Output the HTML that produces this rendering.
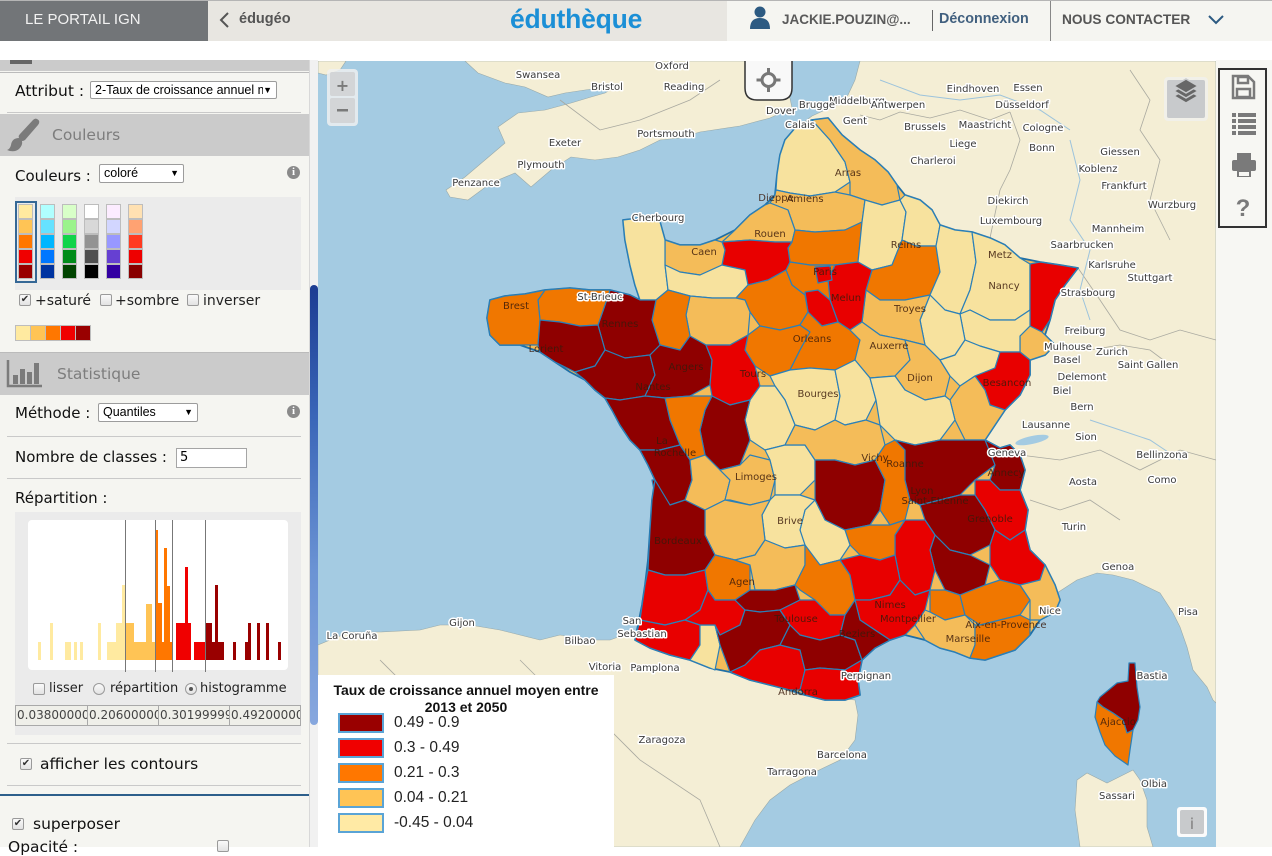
<!DOCTYPE html>
<html><head><meta charset="utf-8">
<style>
*{box-sizing:border-box;margin:0;padding:0}
body{width:1272px;height:847px;overflow:hidden;position:relative;background:#fff;font-family:"DejaVu Sans",sans-serif}
.a{position:absolute}
.lbl{position:absolute;font-family:"DejaVu Sans",sans-serif;font-size:15px;color:#111;white-space:nowrap;line-height:18px}
.sel{position:absolute;background:#fff;border:1px solid #9c9c9c;border-radius:2px;font-family:"Liberation Sans",sans-serif;font-size:12.5px;color:#000;white-space:nowrap;overflow:hidden;padding-left:4px;line-height:16px}
.sel .tx{position:absolute;left:4px;top:0;overflow:hidden;white-space:nowrap}
.sel .ar{position:absolute;right:4px;top:0;font-size:9px}
.dv{position:absolute;height:1px;background:#c9c9c9;left:7px;width:294px}
.cb{position:absolute;width:12px;height:12px;border:1px solid #9a9a9a;border-radius:2px;background:linear-gradient(#fafafa,#e2e2e2);font-size:10px;line-height:10px;color:#333;text-align:center}
.rd{position:absolute;width:12px;height:12px;border:1px solid #9a9a9a;border-radius:50%;background:linear-gradient(#fafafa,#e2e2e2)}
.sm{font-size:14px}
.info{position:absolute;width:13px;height:13px;border-radius:50%;background:#8a8a8a;color:#fff;font-family:"Liberation Serif",serif;font-weight:bold;font-size:11px;line-height:13px;text-align:center}
.sh{position:absolute;left:0;width:309px;background:#cbcbcb}
.sht{position:absolute;font-family:"DejaVu Sans",sans-serif;font-size:15.5px;color:#7d7d7d}
.th{position:absolute;top:705px;height:21px;border:1px solid #a9a9a9;background:#efefe9;font-family:"DejaVu Sans",sans-serif;font-size:12px;color:#444;overflow:hidden;white-space:nowrap;line-height:19px;padding-left:1px}
.D{fill:#8f0000}.R{fill:#e80000}.O{fill:#f07700}.L{fill:#f4bc59}.P{fill:#f7e29e}
#dep polygon{stroke:#2b80b8;stroke-width:1.2;stroke-linejoin:round}
.ml{font-family:"DejaVu Sans",sans-serif;font-size:10px;fill:#3a3a3a;stroke:#fff;stroke-width:3px;paint-order:stroke;stroke-linejoin:round;text-anchor:middle}
.fl{font-family:"DejaVu Sans",sans-serif;font-size:10px;fill:#3a1a0a;fill-opacity:.85;text-anchor:middle}
</style></head>
<body>

<!-- HEADER -->
<div class="a" style="left:0;top:0;width:1272px;height:1px;background:#b5b5b5"></div>
<div class="a" style="left:0;top:1px;width:208px;height:40px;background:#727578"></div>
<div class="a" style="left:208px;top:1px;width:519px;height:40px;background:#e8e6e1"></div>
<div class="a" style="left:727px;top:1px;width:545px;height:40px;background:#f5f5f1"></div>
<div class="a" style="left:25px;top:11px;font-family:'Liberation Sans',sans-serif;font-size:15px;color:#f2f2f2;white-space:nowrap">LE PORTAIL IGN</div>
<svg class="a" style="left:0;top:0" width="1272" height="41">
 <polyline points="228,13 221,20 228,27" fill="none" stroke="#555" stroke-width="2"/>
 <polyline points="1209,16 1216,23 1223,16" fill="none" stroke="#2c5a82" stroke-width="2"/>
 <circle cx="760" cy="12" r="5.5" fill="#2c5a82"/>
 <path d="M750,29 Q750,18 760,18 Q770,18 770,29 Z" fill="#2c5a82"/>
 <line x1="932.5" y1="10" x2="932.5" y2="31" stroke="#666"/>
 <line x1="1050.5" y1="1" x2="1050.5" y2="41" stroke="#888"/>
</svg>
<div class="a" style="left:239px;top:11px;font-family:'Liberation Sans',sans-serif;font-weight:bold;font-size:14.5px;color:#555">édugéo</div>
<div class="a" style="left:510px;top:4px;font-family:'Liberation Sans',sans-serif;font-weight:bold;font-size:26.5px;color:#1b8fd6;letter-spacing:-0.2px">éduthèque</div>
<div class="a" style="left:782px;top:12px;font-family:'Liberation Sans',sans-serif;font-weight:bold;font-size:13.5px;color:#5a5a5a;white-space:nowrap">JACKIE.POUZIN@...</div>
<div class="a" style="left:939px;top:11px;font-family:'Liberation Sans',sans-serif;font-weight:bold;font-size:14.3px;color:#41607f;white-space:nowrap">Déconnexion</div>
<div class="a" style="left:1062px;top:12px;font-family:'Liberation Sans',sans-serif;font-weight:bold;font-size:13.7px;color:#555;white-space:nowrap">NOUS CONTACTER</div>

<!-- LEFT PANEL -->
<div class="a" style="left:0;top:60px;width:309px;height:787px;background:#f5f5f1"></div>
<div class="sh" style="top:60px;height:11px"></div>
<div class="a" style="left:10px;top:60px;width:22px;height:4px;background:#666"></div>
<div class="dv" style="top:72px;left:0;width:309px;background:#bbb"></div>

<div class="lbl" style="left:15px;top:82px;font-size:15.5px">Attribut :</div>
<div class="sel" style="left:90px;top:81px;width:187px;height:18px"><span class="tx" style="width:168px">2-Taux de croissance annuel moyen</span><span class="ar">▼</span></div>
<div class="dv" style="top:112px"></div>

<div class="sh" style="top:114px;height:42px"></div>
<svg class="a" style="left:6px;top:116px" width="36" height="38">
 <path d="M31,3 Q35,5 32,9 L19,24 Q16,26 14,24 L13,22 Q12,20 14,18 L27,4 Q29,2 31,3 Z" fill="#7b7b7b"/>
 <path d="M13,22 Q6,22 5,29 Q4,33 1,34 Q8,37 13,33 Q17,29 16,25 Z" fill="#7b7b7b"/>
</svg>
<div class="sht" style="left:52px;top:126px">Couleurs</div>

<div class="lbl" style="left:15px;top:167px">Couleurs :</div>
<div class="sel" style="left:99px;top:164px;width:85px;height:19px"><span class="tx" style="width:65px">coloré</span><span class="ar">▼</span></div>
<div class="info" style="left:287px;top:166px">i</div>

<div class="a" style="left:15px;top:197px;width:286px;height:93px;background:#ebebeb"></div>
<div class="a" style="left:15px;top:201px;width:22px;height:82px;border:2px solid #356896"></div>
<svg class="a" style="left:0;top:190px" width="160" height="100">
 <g stroke="#bdbdbd" stroke-width="1">
  <rect x="18.5" y="14.5" width="14" height="14" fill="#ffeaa0"/><rect x="18.5" y="29.5" width="14" height="14" fill="#ffc455"/><rect x="18.5" y="44.5" width="14" height="14" fill="#ff7700"/><rect x="18.5" y="59.5" width="14" height="14" fill="#f00000"/><rect x="18.5" y="74.5" width="14" height="14" fill="#990000"/>
  <rect x="40.5" y="14.5" width="14" height="14" fill="#b0ffff"/><rect x="40.5" y="29.5" width="14" height="14" fill="#66e2ff"/><rect x="40.5" y="44.5" width="14" height="14" fill="#00b6ff"/><rect x="40.5" y="59.5" width="14" height="14" fill="#0077ff"/><rect x="40.5" y="74.5" width="14" height="14" fill="#0033a0"/>
  <rect x="62.5" y="14.5" width="14" height="14" fill="#d8ffc8"/><rect x="62.5" y="29.5" width="14" height="14" fill="#9bf38c"/><rect x="62.5" y="44.5" width="14" height="14" fill="#10d44a"/><rect x="62.5" y="59.5" width="14" height="14" fill="#008c1a"/><rect x="62.5" y="74.5" width="14" height="14" fill="#004400"/>
  <rect x="84.5" y="14.5" width="14" height="14" fill="#ffffff"/><rect x="84.5" y="29.5" width="14" height="14" fill="#d8d8d8"/><rect x="84.5" y="44.5" width="14" height="14" fill="#939393"/><rect x="84.5" y="59.5" width="14" height="14" fill="#505050"/><rect x="84.5" y="74.5" width="14" height="14" fill="#000000"/>
  <rect x="106.5" y="14.5" width="14" height="14" fill="#fcecff"/><rect x="106.5" y="29.5" width="14" height="14" fill="#d2d6ff"/><rect x="106.5" y="44.5" width="14" height="14" fill="#9898ff"/><rect x="106.5" y="59.5" width="14" height="14" fill="#6640d2"/><rect x="106.5" y="74.5" width="14" height="14" fill="#3300a2"/>
  <rect x="128.5" y="14.5" width="14" height="14" fill="#ffe1b2"/><rect x="128.5" y="29.5" width="14" height="14" fill="#ffa272"/><rect x="128.5" y="44.5" width="14" height="14" fill="#ff3a20"/><rect x="128.5" y="59.5" width="14" height="14" fill="#ee0000"/><rect x="128.5" y="74.5" width="14" height="14" fill="#880000"/>
 </g>
</svg>
<div class="cb" style="left:19px;top:294px">✔</div>
<div class="lbl sm" style="left:35px;top:292px;color:#222">+saturé</div>
<div class="cb" style="left:100px;top:294px"></div>
<div class="lbl sm" style="left:115px;top:292px;color:#222">+sombre</div>
<div class="cb" style="left:187px;top:294px"></div>
<div class="lbl sm" style="left:203px;top:292px;color:#222">inverser</div>
<svg class="a" style="left:15px;top:325px" width="76" height="16">
 <g stroke="#bdbdbd"><rect x="0.5" y="0.5" width="15" height="15" fill="#ffeaa0"/><rect x="15.5" y="0.5" width="15" height="15" fill="#ffc455"/><rect x="30.5" y="0.5" width="15" height="15" fill="#ff7700"/><rect x="45.5" y="0.5" width="15" height="15" fill="#f00000"/><rect x="60.5" y="0.5" width="15" height="15" fill="#990000"/></g>
</svg>
<div class="dv" style="top:352px;left:0;width:309px;background:#bbb"></div>

<div class="sh" style="top:353px;height:42px"></div>
<svg class="a" style="left:6px;top:358px" width="38" height="32">
 <path d="M2,2 L2,28 L36,28" fill="none" stroke="#7b7b7b" stroke-width="2.5"/>
 <rect x="7" y="17" width="5" height="9" fill="#7b7b7b"/><rect x="14" y="11" width="5" height="15" fill="#7b7b7b"/><rect x="21" y="14" width="5" height="12" fill="#7b7b7b"/><rect x="28" y="5" width="5" height="21" fill="#7b7b7b"/>
</svg>
<div class="sht" style="left:57px;top:365px">Statistique</div>

<div class="lbl" style="left:15px;top:404px">Méthode :</div>
<div class="sel" style="left:98px;top:403px;width:100px;height:19px"><span class="tx" style="width:80px">Quantiles</span><span class="ar">▼</span></div>
<div class="info" style="left:287px;top:405px">i</div>
<div class="dv" style="top:436px"></div>
<div class="lbl" style="left:15px;top:448px">Nombre de classes :</div>
<div class="a" style="left:176px;top:448px;width:71px;height:20px;background:#fff;border:1px solid #a5a5a5;font-family:'DejaVu Sans',sans-serif;font-size:13px;line-height:18px;padding-left:3px">5</div>
<div class="dv" style="top:478px"></div>
<div class="lbl" style="left:15px;top:489px">Répartition :</div>

<div class="a" style="left:15px;top:512px;width:286px;height:223px;background:#ebebeb"></div>
<div class="a" style="left:28px;top:520px;width:260px;height:150px;background:#fff;border-radius:4px"></div>
<svg class="a" style="left:28px;top:520px" width="260" height="152" viewBox="28 520 260 152">
 <g fill="#ffeaa0">
  <rect x="38" y="642" width="3" height="18"/><rect x="50" y="623" width="3" height="37"/><rect x="65" y="642" width="6" height="18"/><rect x="74" y="642" width="3" height="18"/><rect x="80" y="642" width="3" height="18"/><rect x="98" y="623" width="3" height="37"/><rect x="107" y="642" width="9" height="18"/><rect x="116" y="623" width="6" height="37"/><rect x="122" y="585" width="3" height="75"/>
 </g>
 <g fill="#ffc455">
  <rect x="125" y="623" width="9" height="37"/><rect x="134" y="642" width="12" height="18"/><rect x="146" y="604" width="6" height="56"/><rect x="152" y="642" width="4" height="18"/>
 </g>
 <g fill="#ff7700">
  <rect x="155" y="530" width="3" height="130"/><rect x="158" y="603" width="4" height="57"/><rect x="162" y="642" width="2" height="18"/><rect x="164" y="548" width="3" height="112"/><rect x="167" y="586" width="3" height="74"/><rect x="170" y="642" width="2" height="18"/>
 </g>
 <g fill="#f00000">
  <rect x="176" y="623" width="9" height="37"/><rect x="185" y="567" width="3" height="93"/><rect x="188" y="623" width="3" height="37"/><rect x="194" y="642" width="11" height="18"/>
 </g>
 <g fill="#990000">
  <rect x="205" y="623" width="7" height="37"/><rect x="212" y="642" width="3" height="18"/><rect x="215" y="585" width="3" height="75"/><rect x="218" y="642" width="6" height="18"/><rect x="233" y="642" width="3" height="18"/><rect x="245" y="642" width="3" height="18"/><rect x="248" y="623" width="3" height="37"/><rect x="257" y="623" width="3" height="37"/><rect x="266" y="623" width="3" height="37"/><rect x="278" y="642" width="3" height="18"/>
 </g>
 <g stroke="#777" stroke-width="1">
  <line x1="125.5" y1="520" x2="125.5" y2="672"/><line x1="155.5" y1="520" x2="155.5" y2="672"/><line x1="172.5" y1="520" x2="172.5" y2="672"/><line x1="205.5" y1="520" x2="205.5" y2="672"/>
 </g>
</svg>
<div class="cb" style="left:33px;top:683px"></div>
<div class="lbl" style="left:49px;top:680px;font-size:13px;color:#222">lisser</div>
<div class="rd" style="left:93px;top:683px"></div>
<div class="lbl" style="left:110px;top:680px;font-size:13px;color:#222">répartition</div>
<div class="rd" style="left:185px;top:683px"><div class="a" style="left:3px;top:3px;width:4px;height:4px;border-radius:50%;background:#555"></div></div>
<div class="lbl" style="left:200px;top:680px;font-size:13px;color:#222">histogramme</div>
<div class="th" style="left:15px;width:73px">0.03800000</div>
<div class="th" style="left:87px;width:72px">0.20600000</div>
<div class="th" style="left:158px;width:72px">0.30199999</div>
<div class="th" style="left:229px;width:72px">0.49200000</div>
<div class="dv" style="top:743px"></div>
<div class="cb" style="left:20px;top:758px">✔</div>
<div class="lbl" style="left:40px;top:755px;font-size:15.5px">afficher les contours</div>
<div class="dv" style="top:785px"></div>
<div class="a" style="left:0;top:794px;width:309px;height:2px;background:#2d5f8b"></div>
<div class="cb" style="left:12px;top:818px">✔</div>
<div class="lbl" style="left:33px;top:815px;font-size:15.5px">superposer</div>
<div class="lbl" style="left:8px;top:838px;font-size:15.5px">Opacité :</div>
<div class="cb" style="left:217px;top:840px"></div>

<!-- scrollbar -->
<div class="a" style="left:309px;top:60px;width:9px;height:787px;background:#f1f1f1;border-left:1px solid #d8d8d8"></div>
<div class="a" style="left:310px;top:285px;width:8px;height:440px;border-radius:4px;background:linear-gradient(#1c3c92,#3a66b8 30%,#6b93d4 65%,#87a7de)"></div>

<!-- right background -->
<div class="a" style="left:1216px;top:60px;width:56px;height:787px;background:#f7f7f3"></div>

<!-- MAP -->
<svg class="a" style="left:318px;top:61px" width="898" height="786" viewBox="318 61 898 786">
 <rect x="318" y="61" width="898" height="786" fill="#a4cbe2"/>
 <g fill="#f4eed5" stroke="#9aa" stroke-width="0.6">
  <polygon points="318,61 346,61 340,70 326,75 318,73"/>
  <polygon points="465,61 478,73 505,83 525,87 548,97 565,93 585,90 600,88 610,90 605,93 591,97 571,103 545,110 518,113 498,127 505,143 485,160 465,177 446,190 450,197 468,200 491,183 515,173 531,187 551,170 571,157 595,160 618,157 640,150 660,140 680,138 700,132 740,126 770,118 792,108 790,98 770,95 755,92 745,85 748,70 745,61"/>
  <polygon points="800,125 812,116 825,110 840,104 848,95 855,80 860,61 1216,61 1216,703 1213,700 1207,687 1193,670 1187,647 1180,627 1173,613 1160,593 1133,580 1113,575 1097,573 1077,580 1057,593 1040,618 980,560 900,450 820,300 790,200"/>
  <polygon points="318,847 318,645 330,640 350,632 380,632 420,630 440,625 470,625 500,630 520,635 540,640 560,635 590,640 610,640 632,632 650,648 700,660 800,695 855,700 858,715 855,740 840,760 815,772 790,785 770,800 755,820 740,847"/>
  <polygon points="1077,780 1087,773 1107,783 1127,773 1133,770 1140,780 1147,800 1147,827 1153,847 1080,847 1075,810"/>
 </g>
 <g fill="none" stroke="#a9a9a0" stroke-width="0.8">
  <polyline points="860,115 880,120 900,112 930,118 960,110 990,120 1010,112"/>
  <polyline points="1010,112 1020,140 1010,170 1000,190 990,238"/>
  <polyline points="1078,268 1100,300 1120,330 1150,340 1180,330 1216,340"/>
  <polyline points="1055,345 1090,350 1120,345 1150,350 1170,365"/>
  <polyline points="1020,455 1060,460 1100,450 1140,470 1180,450 1216,460"/>
  <polyline points="1030,500 1060,510 1090,500 1120,520"/>
  <polyline points="1130,70 1150,100 1140,130 1160,160 1150,200 1170,240"/>
  <polyline points="520,660 560,700 600,720 640,760 700,800 720,847"/>
  <polyline points="380,660 420,700 440,760 470,800 500,847"/>
  <polyline points="560,100 600,130 640,120 690,100 720,80"/>
 </g>
 <g fill="none" stroke="#9cc3dc" stroke-width="1">
  <polyline points="880,80 920,95 960,100 1000,95 1040,110 1070,130"/>
  <polyline points="1070,140 1080,180 1070,220 1090,250 1080,290 1090,320"/>
  <polyline points="1090,420 1120,430 1150,440 1180,460"/>
 </g>
 <ellipse cx="1032" cy="440" rx="17" ry="4" fill="#a4cbe2" transform="rotate(-12 1032 440)"/>

 <g id="dep">
  <polygon class="L" points="797,126 812,120 828,118 842,135 860,150 875,160 888,172 897,185 905,195 920,200 932,210 940,225 955,230 972,232 990,238 1005,245 1020,258 1040,262 1060,265 1078,268 1065,285 1055,300 1050,320 1045,335 1055,345 1045,355 1030,360 1030,375 1020,395 1005,410 995,425 985,440 1000,448 1010,445 1020,455 1025,470 1020,490 1028,510 1025,530 1030,550 1045,565 1055,585 1060,600 1055,612 1040,620 1030,635 1015,650 1000,655 985,660 970,658 955,652 940,648 925,640 905,635 890,640 875,648 862,660 858,680 860,695 845,700 825,700 805,695 790,690 770,685 750,680 730,672 710,668 690,660 670,655 650,648 635,640 638,625 642,605 645,585 648,560 650,530 652,500 655,480 648,465 640,450 630,440 620,425 612,410 605,398 595,390 585,380 570,372 555,362 540,352 520,345 500,345 490,335 487,318 490,300 505,296 525,294 545,290 570,288 590,290 610,290 630,295 640,300 635,285 630,265 625,240 623,220 640,218 660,222 665,240 680,245 700,245 715,240 735,230 750,215 765,205 775,195 777,175 780,155 785,140" style="stroke:#1f6fa6;stroke-width:1.8"/>
  <polygon class="P" points="797,126 812,120 830,140 845,162 850,182 835,192 810,196 790,193 776,190 777,175 780,155 785,140"/>
  <polygon class="L" points="812,120 828,118 842,135 860,150 875,160 888,172 897,185 900,200 882,205 865,200 850,195 850,182 845,162 830,140"/>
  <polygon class="L" points="776,190 790,193 810,196 835,192 850,195 865,200 862,222 845,230 815,232 795,230 788,210 770,203 775,195"/>
  <polygon class="L" points="765,205 770,203 788,210 795,230 792,242 775,242 750,240 722,242 735,230 750,215"/>
  <polygon class="O" points="795,230 815,232 845,230 862,222 858,262 835,265 810,265 790,262 788,248 792,242"/>
  <polygon class="P" points="865,200 882,205 900,200 906,212 902,240 892,265 872,270 858,262 862,222"/>
  <polygon class="P" points="900,200 905,195 920,200 932,210 940,225 936,246 916,246 902,240 906,212"/>
  <polygon class="O" points="872,270 892,265 902,240 916,246 936,246 940,272 930,295 905,300 880,300 866,290"/>
  <polygon class="P" points="936,246 940,225 955,230 972,232 976,262 970,290 960,314 945,310 930,295 940,272"/>
  <polygon class="P" points="972,232 990,238 1005,245 1020,258 1030,264 1030,292 1030,310 1015,320 990,320 970,310 960,314 970,290 976,262"/>
  <polygon class="R" points="1030,264 1040,262 1060,265 1078,268 1065,285 1055,300 1050,320 1042,332 1030,326 1030,292"/>
  <polygon class="L" points="1030,326 1042,332 1045,335 1055,345 1045,355 1030,360 1020,352 1020,336"/>
  <polygon class="P" points="960,314 970,310 990,320 1015,320 1030,310 1030,326 1020,336 1020,352 1000,352 980,346 965,340"/>
  <polygon class="P" points="930,295 945,310 960,314 965,340 955,355 940,360 925,345 920,320"/>
  <polygon class="L" points="866,290 880,300 905,300 930,295 920,320 925,345 905,340 880,335 862,322"/>
  <polygon class="R" points="835,265 858,262 872,270 866,290 862,322 850,330 838,322 830,300 828,280"/>
  <polygon class="O" points="790,262 810,265 835,265 828,280 830,300 818,305 805,295 792,285 786,270"/>
  <polygon class="R" points="805,292 818,290 830,300 838,322 822,326 808,312"/>
  <polygon class="R" points="815,267 830,266 832,280 818,283"/>
  <polygon class="R" points="722,242 750,240 775,242 792,242 788,248 790,262 786,270 768,280 748,285 745,270 722,265 725,250"/>
  <polygon class="L" points="665,240 680,245 700,245 715,240 722,242 725,250 722,265 700,275 680,272 665,265"/>
  <polygon class="P" points="623,220 640,218 660,222 665,240 665,265 668,290 656,300 640,300 635,285 630,265 625,240"/>
  <polygon class="P" points="665,265 680,272 700,275 722,265 745,270 748,285 736,298 712,298 690,296 668,290"/>
  <polygon class="O" points="748,285 768,280 786,270 792,285 805,295 808,312 800,325 780,330 760,326 750,312 745,300 736,298"/>
  <polygon class="L" points="690,296 712,298 736,298 745,300 750,312 748,335 730,345 706,345 690,336 686,315"/>
  <polygon class="O" points="656,300 668,290 690,296 686,315 690,336 680,350 660,345 652,320"/>
  <polygon class="D" points="610,290 630,295 640,300 656,300 652,320 660,345 650,355 625,358 605,350 598,325 605,305"/>
  <polygon class="O" points="545,290 570,288 590,290 610,290 605,305 598,325 580,326 560,322 540,320 538,300"/>
  <polygon class="O" points="490,300 505,296 525,294 545,290 538,300 540,320 538,345 520,345 500,345 490,335 487,318"/>
  <polygon class="D" points="540,320 560,322 580,326 598,325 605,350 595,366 575,372 555,362 540,352 538,345"/>
  <polygon class="D" points="595,366 605,350 625,358 650,355 655,375 645,396 620,400 605,398 595,390 585,380 575,372"/>
  <polygon class="D" points="650,355 660,345 680,350 690,336 706,345 712,360 710,385 690,396 665,398 645,396 655,375"/>
  <polygon class="O" points="748,335 760,326 780,330 800,325 810,332 800,350 790,370 770,376 755,366 745,350"/>
  <polygon class="O" points="800,325 808,312 822,326 838,322 850,330 860,340 855,360 835,370 810,368 790,370 800,350 810,332"/>
  <polygon class="R" points="706,345 730,345 748,335 745,350 755,366 760,386 750,400 730,405 712,396 710,385 712,360"/>
  <polygon class="L" points="850,330 862,322 880,335 905,340 910,360 895,376 870,378 855,360 860,340"/>
  <polygon class="L" points="905,340 925,345 940,360 950,376 945,396 925,400 905,390 895,376 910,360"/>
  <polygon class="P" points="940,360 955,355 965,340 980,346 1000,352 995,368 975,376 960,386 950,376"/>
  <polygon class="R" points="1000,352 1020,352 1030,360 1030,375 1020,395 1005,410 990,405 985,390 975,376 995,368"/>
  <polygon class="L" points="960,386 975,376 985,390 990,405 1005,410 995,425 985,440 965,440 955,420 950,400"/>
  <polygon class="P" points="790,370 810,368 835,370 840,396 835,420 815,430 795,425 785,400 775,386 770,376"/>
  <polygon class="P" points="835,370 855,360 870,378 876,400 866,420 845,425 835,420 840,396"/>
  <polygon class="P" points="870,378 895,376 905,390 925,400 945,396 950,400 955,420 940,440 915,445 895,440 880,425 876,400"/>
  <polygon class="P" points="750,400 760,386 775,386 785,400 795,425 785,445 765,450 750,440 745,420"/>
  <polygon class="D" points="712,396 730,405 750,400 745,420 750,440 740,465 720,470 705,455 700,430 705,410"/>
  <polygon class="O" points="665,398 690,396 712,396 705,410 700,430 705,455 690,460 680,445 670,420"/>
  <polygon class="D" points="605,398 620,400 645,396 665,398 670,420 680,445 660,450 640,450 630,440 620,425 612,410"/>
  <polygon class="D" points="640,450 660,450 680,445 690,460 692,480 685,500 670,505 655,495 652,480 655,480 648,465"/>
  <polygon class="L" points="690,460 705,455 720,470 730,480 725,500 705,510 690,505 685,500 692,480"/>
  <polygon class="L" points="720,470 740,465 750,455 770,460 775,480 770,500 750,505 730,500 725,500 730,480"/>
  <polygon class="P" points="765,450 785,445 805,445 815,460 815,480 800,495 775,495 775,480 770,460"/>
  <polygon class="L" points="795,425 815,430 835,420 845,425 866,420 880,425 885,445 875,460 855,465 835,460 815,460 805,445 785,445"/>
  <polygon class="D" points="815,460 835,460 855,465 875,460 885,480 880,510 870,525 845,530 825,520 815,500 815,480"/>
  <polygon class="O" points="875,460 885,445 895,440 905,450 905,480 910,500 905,520 890,525 880,510 885,480"/>
  <polygon class="D" points="895,440 915,445 940,440 965,440 985,440 1000,448 995,465 975,480 960,495 940,500 920,505 910,500 905,480 905,450"/>
  <polygon class="D" points="985,440 1000,448 1010,445 1020,455 1025,470 1020,490 1000,490 990,480 995,465"/>
  <polygon class="R" points="975,480 990,480 1000,490 1020,490 1028,510 1025,530 1010,540 995,530 985,510 975,495"/>
  <polygon class="D" points="920,505 940,500 960,495 975,495 985,510 995,530 990,545 970,555 950,550 935,535 925,520"/>
  <polygon class="R" points="990,545 995,530 1010,540 1025,530 1030,550 1045,565 1040,580 1020,585 1000,580 990,565"/>
  <polygon class="D" points="935,535 950,550 970,555 990,565 985,585 960,595 945,590 935,570 930,550"/>
  <polygon class="R" points="905,520 925,520 935,535 930,550 935,570 930,590 915,595 900,580 895,555 895,535"/>
  <polygon class="O" points="845,530 870,525 890,525 905,520 895,535 895,555 880,560 860,555 850,545"/>
  <polygon class="P" points="815,500 825,520 845,530 850,545 840,560 820,565 805,555 800,530 805,510"/>
  <polygon class="P" points="770,500 775,495 800,495 815,500 805,510 800,530 805,545 785,548 765,540 762,515"/>
  <polygon class="L" points="705,510 725,500 750,505 770,500 762,515 765,540 755,555 735,560 715,555 705,535"/>
  <polygon class="D" points="655,480 670,505 685,500 705,510 705,535 715,555 705,570 685,575 665,575 648,570 650,530 652,500"/>
  <polygon class="R" points="648,570 665,575 685,575 705,570 708,590 700,610 685,620 665,625 640,620 645,585"/>
  <polygon class="O" points="705,570 715,555 735,560 750,565 750,590 735,600 715,600 708,590"/>
  <polygon class="L" points="735,560 755,555 765,540 785,548 805,545 805,565 795,585 775,590 755,590 750,565"/>
  <polygon class="O" points="805,545 820,565 840,560 850,575 855,600 845,615 830,615 815,600 800,590 795,585 805,565"/>
  <polygon class="R" points="840,560 860,555 880,560 895,555 900,580 890,595 870,600 855,600 850,575"/>
  <polygon class="R" points="855,600 870,600 890,595 900,580 915,595 930,590 925,610 915,625 905,635 890,640 875,630 860,620"/>
  <polygon class="O" points="930,590 945,590 960,595 965,615 945,620 930,612"/>
  <polygon class="L" points="925,610 930,612 945,620 965,615 975,625 975,645 970,658 955,652 940,648 925,640 915,625"/>
  <polygon class="O" points="960,595 985,585 1000,580 1020,585 1030,600 1020,615 1000,620 980,625 965,615"/>
  <polygon class="O" points="975,625 980,625 1000,620 1020,615 1030,620 1030,635 1015,650 1000,655 985,660 970,658 975,645"/>
  <polygon class="L" points="1020,585 1040,580 1045,565 1055,585 1060,600 1055,612 1040,620 1030,620 1030,600"/>
  <polygon class="R" points="640,620 665,625 685,620 700,625 700,645 690,660 670,655 650,648 635,640"/>
  <polygon class="P" points="700,625 715,625 720,645 715,670 710,668 690,660 700,645"/>
  <polygon class="R" points="685,620 700,610 708,590 715,600 735,600 745,610 740,625 720,635 715,625 700,625"/>
  <polygon class="D" points="735,600 750,590 775,590 795,585 800,600 780,610 760,612 745,610"/>
  <polygon class="D" points="715,625 720,635 740,625 745,610 760,612 780,610 790,625 780,645 760,650 745,665 730,672 720,645"/>
  <polygon class="R" points="780,610 800,600 815,600 830,615 845,615 840,635 820,640 800,635 790,625"/>
  <polygon class="R" points="745,665 760,650 780,645 800,650 805,670 800,690 790,690 770,685 750,680 730,672"/>
  <polygon class="D" points="780,645 790,625 800,635 820,640 840,635 855,640 862,660 845,670 820,668 805,670 800,650"/>
  <polygon class="D" points="840,635 845,615 855,600 860,620 875,630 890,640 875,648 862,660 855,640"/>
  <polygon class="R" points="805,670 820,668 845,670 862,660 858,680 860,695 845,700 825,700 805,695 800,690"/>
  <polygon class="D" points="1100,697 1117,683 1128,681 1129,663 1135,663 1137,687 1140,707 1138,720 1133,730 1127,733 1123,720 1113,713 1103,707 1097,702"/>
  <polygon class="O" points="1097,702 1103,707 1113,713 1123,720 1127,733 1133,730 1130,750 1128,765 1115,756 1105,745 1100,732 1095,717"/>
 </g>

 <g>
  <text class="ml" x="538" y="78">Swansea</text><text class="ml" x="607" y="90">Bristol</text><text class="ml" x="672" y="69">Oxford</text><text class="ml" x="684" y="90">Reading</text>
  <text class="ml" x="565" y="146">Exeter</text><text class="ml" x="541" y="168">Plymouth</text><text class="ml" x="476" y="186">Penzance</text><text class="ml" x="666" y="137">Portsmouth</text>
  <text class="ml" x="781" y="114">Dover</text><text class="ml" x="857" y="104">Middelburg</text><text class="ml" x="973" y="92">Eindhoven</text><text class="ml" x="1028" y="91">Essen</text>
  <text class="ml" x="817" y="108">Brugge</text><text class="ml" x="898" y="108">Antwerpen</text><text class="ml" x="1022" y="108">Düsseldorf</text><text class="ml" x="855" y="124">Gent</text>
  <text class="ml" x="925" y="130">Brussels</text><text class="ml" x="985" y="128">Maastricht</text><text class="ml" x="1043" y="131">Cologne</text><text class="ml" x="963" y="147">Liege</text>
  <text class="ml" x="1042" y="151">Bonn</text><text class="ml" x="933" y="164">Charleroi</text><text class="ml" x="1120" y="155">Giessen</text><text class="ml" x="1098" y="172">Koblenz</text>
  <text class="ml" x="1124" y="189">Frankfurt</text><text class="ml" x="1008" y="204">Diekirch</text><text class="ml" x="1172" y="208">Wurzburg</text><text class="ml" x="1011" y="224">Luxembourg</text>
  <text class="ml" x="1118" y="232">Mannheim</text><text class="ml" x="1082" y="248">Saarbrucken</text><text class="ml" x="1112" y="268">Karlsruhe</text><text class="ml" x="1150" y="281">Stuttgart</text>
  <text class="ml" x="1088" y="296">Strasbourg</text><text class="ml" x="1085" y="334">Freiburg</text><text class="ml" x="1068" y="350">Mulhouse</text><text class="ml" x="1067" y="363">Basel</text>
  <text class="ml" x="1112" y="355">Zurich</text><text class="ml" x="1148" y="368">Saint Gallen</text><text class="ml" x="1082" y="380">Delemont</text><text class="ml" x="1062" y="394">Biel</text>
  <text class="ml" x="1082" y="410">Bern</text><text class="ml" x="1046" y="428">Lausanne</text><text class="ml" x="1086" y="440">Sion</text><text class="ml" x="1162" y="458">Bellinzona</text>
  <text class="ml" x="1007" y="456">Geneva</text><text class="ml" x="1083" y="485">Aosta</text><text class="ml" x="1162" y="483">Como</text><text class="ml" x="1074" y="530">Turin</text>
  <text class="ml" x="1118" y="570">Genoa</text><text class="ml" x="1188" y="615">Pisa</text><text class="ml" x="1050" y="614">Nice</text><text class="ml" x="1152" y="679">Bastia</text>
  <text class="ml" x="1154" y="787">Olbia</text><text class="ml" x="1117" y="799">Sassari</text><text class="ml" x="352" y="639">La Coruña</text><text class="ml" x="462" y="626">Gijon</text>
  <text class="ml" x="580" y="644">Bilbao</text><text class="ml" x="632" y="624">San</text><text class="ml" x="642" y="637">Sebastian</text><text class="ml" x="605" y="670">Vitoria</text>
  <text class="ml" x="655" y="671">Pamplona</text><text class="ml" x="662" y="743">Zaragoza</text><text class="ml" x="842" y="758">Barcelona</text><text class="ml" x="792" y="775">Tarragona</text>
  <text class="ml" x="866" y="679">Perpignan</text><text class="ml" x="800" y="128">Calais</text><text class="ml" x="658" y="221">Cherbourg</text><text class="ml" x="600" y="300">St-Brieuc</text>
 </g>
 <g>
  <text class="fl" x="848" y="176">Arras</text><text class="fl" x="776" y="201">Dieppe</text><text class="fl" x="805" y="202">Amiens</text><text class="fl" x="770" y="237">Rouen</text>
  <text class="fl" x="704" y="255">Caen</text><text class="fl" x="906" y="248">Reims</text><text class="fl" x="1000" y="258">Metz</text><text class="fl" x="825" y="275">Paris</text>
  <text class="fl" x="846" y="301">Melun</text><text class="fl" x="516" y="309">Brest</text><text class="fl" x="910" y="312">Troyes</text><text class="fl" x="1004" y="289">Nancy</text>
  <text class="fl" x="620" y="327">Rennes</text><text class="fl" x="546" y="352">Lorient</text><text class="fl" x="812" y="342">Orleans</text><text class="fl" x="889" y="349">Auxerre</text>
  <text class="fl" x="686" y="370">Angers</text><text class="fl" x="753" y="377">Tours</text><text class="fl" x="653" y="390">Nantes</text><text class="fl" x="920" y="381">Dijon</text>
  <text class="fl" x="1007" y="386">Besancon</text><text class="fl" x="818" y="397">Bourges</text><text class="fl" x="662" y="444">La</text><text class="fl" x="675" y="456">Rochelle</text>
  <text class="fl" x="875" y="461">Vichy</text><text class="fl" x="905" y="467">Roanne</text><text class="fl" x="1006" y="476">Annecy</text><text class="fl" x="756" y="480">Limoges</text>
  <text class="fl" x="922" y="494">Lyon</text><text class="fl" x="935" y="504">Saint-Etienne</text><text class="fl" x="990" y="522">Grenoble</text><text class="fl" x="790" y="524">Brive</text>
  <text class="fl" x="678" y="544">Bordeaux</text><text class="fl" x="742" y="585">Agen</text><text class="fl" x="890" y="608">Nimes</text><text class="fl" x="796" y="622">Toulouse</text>
  <text class="fl" x="908" y="622">Montpellier</text><text class="fl" x="1006" y="628">Aix-en-Provence</text><text class="fl" x="857" y="637">Beziers</text><text class="fl" x="968" y="642">Marseille</text>
  <text class="fl" x="798" y="695">Andorra</text><text class="fl" x="1118" y="725">Ajaccio</text>
 </g>

 <!-- zoom control -->
 <rect x="327" y="69" width="31" height="57" rx="4" fill="#eef0f0" fill-opacity="0.85"/>
 <rect x="330" y="72" width="25" height="24" rx="2" fill="#d3d5d7"/>
 <rect x="330" y="98" width="25" height="25" rx="2" fill="#d3d5d7"/>
 <text x="342.5" y="91" font-family="DejaVu Sans" font-size="16" font-weight="bold" fill="#7a7a7a" text-anchor="middle">+</text>
 <rect x="337" y="109" width="11" height="2.5" fill="#7a7a7a"/>

 <!-- crosshair control -->
 <path d="M745,60 L745,88 Q745,100 757,100 L780,100 Q792,100 792,88 L792,60 Z" fill="#f8f8f8" stroke="#333" stroke-width="1.5"/>
 <circle cx="768.5" cy="80" r="6.5" fill="none" stroke="#777" stroke-width="3"/>
 <g stroke="#777" stroke-width="3"><line x1="768.5" y1="68" x2="768.5" y2="73"/><line x1="768.5" y1="87" x2="768.5" y2="92"/><line x1="756.5" y1="80" x2="761.5" y2="80"/><line x1="775.5" y1="80" x2="780.5" y2="80"/></g>

 <!-- layers button -->
 <rect x="1164" y="77" width="44" height="44" rx="4" fill="#f0f0ee" fill-opacity="0.8"/>
 <rect x="1167" y="80" width="38" height="38" rx="2" fill="#c8cacc"/>
 <g fill="#676767" stroke="#c8cacc" stroke-width="1.5">
  <polygon points="1186,103 1174,96 1186,89 1198,96"/>
  <polygon points="1186,98 1174,91 1186,84 1198,91"/>
  <polygon points="1186,93 1174,86 1186,79 1198,86"/>
 </g>

 <!-- info button -->
 <rect x="1177" y="807" width="30" height="30" rx="3" fill="#fbfbfb"/>
 <rect x="1180" y="810" width="24" height="24" rx="2" fill="#c8cacc"/>
 <text x="1192" y="829" font-family="DejaVu Sans" font-size="15" fill="#7a7a7a" text-anchor="middle">i</text>
</svg>

<!-- legend -->
<div class="a" style="left:318px;top:675px;width:296px;height:172px;background:#fff"></div>
<div class="a" style="left:318px;top:682px;width:296px;text-align:center;font-family:'Liberation Sans',sans-serif;font-weight:bold;font-size:14px;line-height:17px;color:#111">Taux de croissance annuel moyen entre<br>2013 et 2050</div>
<div class="a" style="left:338px;top:713px;width:46px;height:20px;background:#990000;border:2px solid #5aa4d6"></div>
<div class="a" style="left:338px;top:738px;width:46px;height:20px;background:#f00000;border:2px solid #5aa4d6"></div>
<div class="a" style="left:338px;top:763px;width:46px;height:20px;background:#ff7700;border:2px solid #5aa4d6"></div>
<div class="a" style="left:338px;top:788px;width:46px;height:20px;background:#ffc455;border:2px solid #5aa4d6"></div>
<div class="a" style="left:338px;top:813px;width:46px;height:20px;background:#ffeaa5;border:2px solid #5aa4d6"></div>
<div class="a" style="left:394px;top:714px;font-family:'Liberation Sans',sans-serif;font-size:15.5px;color:#222;line-height:18px">0.49 - 0.9</div>
<div class="a" style="left:394px;top:739px;font-family:'Liberation Sans',sans-serif;font-size:15.5px;color:#222;line-height:18px">0.3 - 0.49</div>
<div class="a" style="left:394px;top:764px;font-family:'Liberation Sans',sans-serif;font-size:15.5px;color:#222;line-height:18px">0.21 - 0.3</div>
<div class="a" style="left:394px;top:789px;font-family:'Liberation Sans',sans-serif;font-size:15.5px;color:#222;line-height:18px">0.04 - 0.21</div>
<div class="a" style="left:394px;top:814px;font-family:'Liberation Sans',sans-serif;font-size:15.5px;color:#222;line-height:18px">-0.45 - 0.04</div>

<!-- right toolbar -->
<div class="a" style="left:1218px;top:68px;width:49px;height:160px;background:#f7f7f3;border:2px solid #333"></div>
<svg class="a" style="left:1218px;top:68px" width="49" height="160">
 <g fill="none" stroke="#7a7a7a" stroke-width="2.5">
  <path d="M15,8 L30,8 L36,14 L36,30 L15,30 Z"/>
  <rect x="20" y="9" width="10" height="6"/>
  <rect x="19" y="21" width="13" height="8"/>
 </g>
 <g fill="#7a7a7a">
  <rect x="14" y="45" width="4" height="4"/><rect x="20" y="45" width="18" height="4"/>
  <rect x="14" y="51" width="4" height="4"/><rect x="20" y="51" width="18" height="4"/>
  <rect x="14" y="57" width="4" height="4"/><rect x="20" y="57" width="18" height="4"/>
  <rect x="14" y="63" width="4" height="4"/><rect x="20" y="63" width="18" height="4"/>
  <rect x="19" y="85" width="14" height="7"/>
  <rect x="14" y="92" width="24" height="11" rx="2"/>
  <rect x="19" y="102" width="14" height="7"/>
  <text x="25" y="148" font-family="Liberation Sans" font-weight="bold" font-size="24" text-anchor="middle">?</text>
 </g>
 <rect x="21" y="104" width="10" height="4" fill="#f7f7f3"/>
</svg>

</body></html>
